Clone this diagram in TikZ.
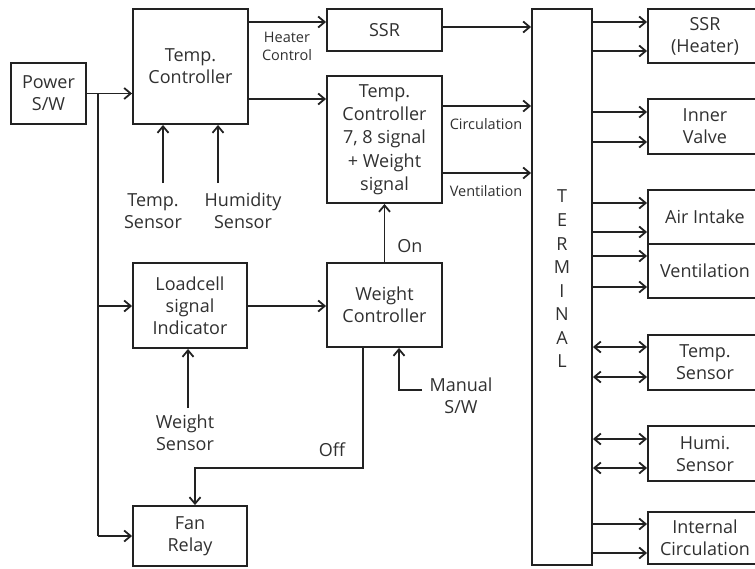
\documentclass[tikz,border=0pt]{standalone}
\usepackage{fontspec}
\setmainfont{Open Sans}
\usetikzlibrary{arrows.meta}
\definecolor{lc}{HTML}{222222}
\definecolor{tx}{HTML}{303030}
\begin{document}
\begin{tikzpicture}[x=1pt,y=-1pt,
  box/.style={draw=lc,line width=1.9pt,inner sep=0pt,align=center,text=tx,font=\fontsize{18}{22}\selectfont},
  arr/.style={draw=lc,line width=1.8pt,-{Straight Barb[length=6.5pt,width=11pt]}},
  darr/.style={draw=lc,line width=1.8pt,{Straight Barb[length=6.5pt,width=11pt]}-{Straight Barb[length=6.5pt,width=11pt]}},
  wire/.style={draw=lc,line width=1.8pt},
  lbl/.style={text=tx,align=center,inner sep=0pt,font=\fontsize{18}{22}\selectfont},
  slbl/.style={text=tx,align=center,inner sep=0pt,font=\fontsize{14.5}{18}\selectfont}]
\useasboundingbox (0,0) rectangle (755,568);

% left blocks
\node[box,minimum width=75pt,minimum height=61pt] (power) at (48.5,93.5) {Power\\S/W};
\node[box,minimum width=115pt,minimum height=115pt] (tc) at (190.5,66.5) {Temp.\\Controller};
\node[box,minimum width=115pt,minimum height=42pt] (ssr) at (384.5,30) {SSR};
\node[box,minimum width=115pt,minimum height=127pt,font=\fontsize{18}{23.3}\selectfont] (tcs) at (384.5,139.5) {Temp.\\Controller\\7, 8 signal\\+ Weight\\signal};
\node[box,minimum width=114pt,minimum height=85pt] (load) at (190,305.5) {Loadcell\\signal\\Indicator};
\node[box,minimum width=115pt,minimum height=84pt] (wc) at (384.5,305) {Weight\\Controller};
\node[box,minimum width=114pt,minimum height=60pt] (fan) at (190,536) {Fan\\Relay};

% terminal
\node[box,minimum width=60pt,minimum height=556pt] (term) at (562,287) {};
\node[lbl,font=\fontsize{18}{23.57}\selectfont] (termtxt) at (562,279) {T\\E\\R\\M\\I\\N\\A\\L};

% right blocks
\node[box,minimum width=114pt,minimum height=54pt] (ssrh) at (705,36) {SSR\\(Heater)};
\node[box,minimum width=114pt,minimum height=55pt] (iv) at (705,126.5) {Inner\\Valve};
\node[box,minimum width=114pt,minimum height=54pt] (ai) at (705,217) {Air Intake};
\node[box,minimum width=114pt,minimum height=54pt] (vent) at (705,271) {Ventilation};
\node[box,minimum width=114pt,minimum height=55pt] (ts) at (705,362.5) {Temp.\\Sensor};
\node[box,minimum width=114pt,minimum height=55pt] (hs) at (705,453.5) {Humi.\\Sensor};
\node[box,minimum width=114pt,minimum height=52pt] (ic) at (705,538) {Internal\\Circulation};

% labels
\node[lbl] (tsl) at (153,211) {Temp.\\Sensor};
\node[lbl] (hsl) at (243,211) {Humidity\\Sensor};
\node[slbl] (hcl) at (287,46) {Heater\\Control};
\node[slbl] (cil) at (486,124) {Circulation};
\node[slbl] (vel) at (486,191) {Ventilation};
\node[lbl] (onl) at (410,246) {On};
\node[lbl] (wsl) at (185,433) {Weight\\Sensor};
\node[lbl] (msl) at (461,396) {Manual\\S/W};
\node[lbl] (offl) at (332,450) {Off};

% coordinates
\coordinate (jp) at (98,93.5);
\coordinate (tsin) at (163,183);
\coordinate (hsin) at (218,183);
\coordinate (wsin) at (188,408);
\coordinate (msin) at (422,390);
\coordinate (offc) at (363,468);

% connectors left
\draw[arr] (power.east |- jp) -- (tc.west |- jp);
\draw[wire] (jp) -- (98,536);
\draw[arr] (98,536) -- (fan.west |- 0,536);
\draw[arr] (98,306) -- (load.west |- 0,306);
\draw[arr] (tsin) -- (tsin |- tc.south);
\draw[arr] (hsin) -- (hsin |- tc.south);
\draw[arr] (tc.east |- 0,22) -- (ssr.west |- 0,22);
\draw[arr] (tc.east |- 0,99) -- (tcs.west |- 0,99);
\draw[arr] (ssr.east |- 0,27) -- (term.west |- 0,27);
\draw[arr] (tcs.east |- 0,106) -- (term.west |- 0,106);
\draw[arr] (tcs.east |- 0,173) -- (term.west |- 0,173);
\draw[arr] (load.east |- 0,306) -- (wc.west |- 0,306);
\draw[arr] (wsin) -- (wsin |- load.south);
\draw[arr] (wc.north |- 0,263) -- (tcs.south);
\draw[arr] (msin) -- (399,390) -- (399,390 |- wc.south);
\draw[arr] (wc.south -| offc) -- (offc) -- (195,468) -- (195,468 |- fan.north);

% connectors right
\foreach \yy/\bx in {22/ssrh,51/ssrh,112/iv,142/iv,203/ai,232/ai,256/vent,287/vent,524/ic,553/ic}
  \draw[arr] (term.east |- 0,\yy) -- (\bx.west |- 0,\yy);
\foreach \yy/\bx in {347/ts,377/ts,439/hs,468/hs}
  \draw[darr] (term.east |- 0,\yy) -- (\bx.west |- 0,\yy);
\end{tikzpicture}
\end{document}
